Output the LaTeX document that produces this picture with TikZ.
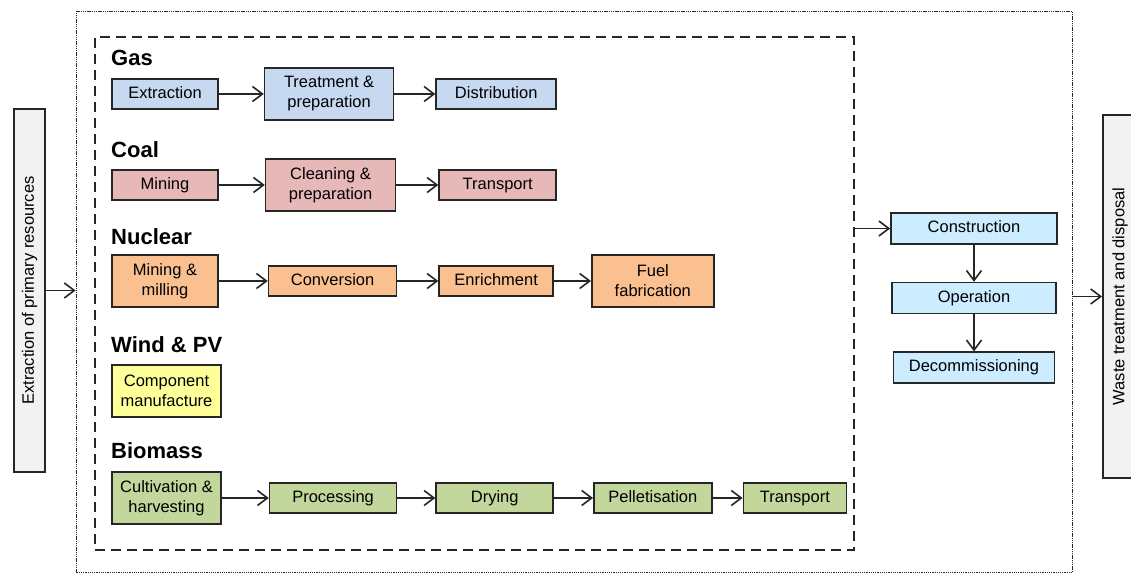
\documentclass[tikz,border=0pt]{standalone}
\usepackage{fontspec}
\setmainfont{Liberation Sans}
\usepackage{xcolor}
\usetikzlibrary{positioning, arrows.meta}

\definecolor{gasblue}{HTML}{C6D9F1}
\definecolor{coalpink}{HTML}{E6B9B8}
\definecolor{nucorange}{HTML}{FAC090}
\definecolor{windyellow}{HTML}{FFFF99}
\definecolor{biogreen}{HTML}{C3D69B}
\definecolor{lifeblue}{HTML}{CCECFF}
\definecolor{sidegray}{HTML}{F2F2F2}
\definecolor{edgegray}{HTML}{262626}

\begin{document}
\begin{tikzpicture}[
    x=1pt, y=-1pt,
    node distance=40pt,
    stagebox/.style={rectangle, draw=edgegray, line width=1.6pt, align=center, inner sep=2pt, font=\fontsize{16.5}{20}\selectfont},
    stage/.style={stagebox, minimum height=30pt, text height=12pt, text depth=3.5pt},
    twoline/.style={stagebox, minimum height=52pt},
    gas/.style={fill=gasblue},
    coal/.style={fill=coalpink},
    nuclear/.style={fill=nucorange},
    wind/.style={fill=windyellow},
    biomass/.style={fill=biogreen},
    life/.style={stage, fill=lifeblue, minimum height=31pt},
    fuellabel/.style={anchor=west, inner sep=0pt, font=\fontsize{22}{26}\selectfont\bfseries},
    sidebox/.style={rectangle, draw=edgegray, line width=2pt, fill=sidegray, minimum width=31pt, minimum height=363pt},
    sidetext/.style={rotate=90, font=\fontsize{16.5}{20}\selectfont},
    arr/.style={-{Straight Barb[length=10pt, width=15pt]}, line width=1.6pt, draw=edgegray}
]
\useasboundingbox (0,0) rectangle (1131,575);

% Frames
\node[rectangle, draw=edgegray, line width=1.8pt, dash pattern=on 1.3pt off 0.9pt, minimum width=996pt, minimum height=561pt] (system) at (574.5,292) {};
\node[rectangle, draw=edgegray, line width=1.8pt, dash pattern=on 10pt off 6pt, minimum width=759pt, minimum height=513pt] (plants) at (474.5,293.5) {};

% Side boxes
\node[sidebox] (extract) at (29.5,290.5) {};
\node[sidetext] at (extract.center) {Extraction of primary resources};
\node[sidebox] (waste) at (1118.5,296.5) {};
\node[sidetext] at (1120,296.5) {Waste treatment and disposal};

% Gas
\node[fuellabel] (gaslbl) at (111,58) {Gas};
\node[stage, gas, minimum width=106pt] (g1) at (165,94) {Extraction};
\node[twoline, gas, minimum width=129pt, right=45pt of g1] (g2) {Treatment \&\\preparation};
\node[stage, gas, minimum width=120pt, right=41pt of g2] (g3) {Distribution};

% Coal
\node[fuellabel] (coallbl) at (111,150) {Coal};
\node[stage, coal, minimum width=106pt] (c1) at (165,185) {Mining};
\node[twoline, coal, minimum width=130pt, right=46pt of c1] (c2) {Cleaning \&\\preparation};
\node[stage, coal, minimum width=117pt, right=42pt of c2] (c3) {Transport};

% Nuclear
\node[fuellabel] (nuclbl) at (111,237) {Nuclear};
\node[twoline, nuclear, minimum width=106pt] (n1) at (165,281) {Mining \&\\milling};
\node[stage, nuclear, minimum width=128pt, right=49pt of n1] (n2) {Conversion};
\node[stage, nuclear, minimum width=114pt, right=41pt of n2] (n3) {Enrichment};
\node[twoline, nuclear, minimum width=122pt, right=37pt of n3] (n4) {Fuel\\fabrication};

% Wind & PV
\node[fuellabel] (windlbl) at (111,345) {Wind \& PV};
\node[twoline, wind, minimum width=109pt] (w1) at (166.5,391) {Component\\manufacture};

% Biomass
\node[fuellabel] (biolbl) at (111,451) {Biomass};
\node[twoline, biomass, minimum width=109pt] (b1) at (166.5,498) {Cultivation \&\\harvesting};
\node[stage, biomass, minimum width=127pt, right=47pt of b1] (b2) {Processing};
\node[stage, biomass, minimum width=117pt, right=38pt of b2] (b3) {Drying};
\node[stage, biomass, minimum width=118pt, right=39pt of b3] (b4) {Pelletisation};
\node[stage, biomass, minimum width=103pt, right=30pt of b4] (b5) {Transport};

% Life cycle of the plant
\node[life, minimum width=166pt] (constr) at (974,228.5) {Construction};
\node[life, minimum width=164pt, below=37pt of constr] (oper) {Operation};
\node[life, minimum width=161pt, below=37pt of oper] (decom) {Decommissioning};

% Chains
\draw[arr] (g1) -- (g2);
\draw[arr] (g2) -- (g3);
\draw[arr] (c1) -- (c2);
\draw[arr] (c2) -- (c3);
\draw[arr] (n1) -- (n2);
\draw[arr] (n2) -- (n3);
\draw[arr] (n3) -- (n4);
\draw[arr] (b1) -- (b2);
\draw[arr] (b2) -- (b3);
\draw[arr] (b3) -- (b4);
\draw[arr] (b4) -- (b5);
\draw[arr] (constr) -- (oper);
\draw[arr] (oper) -- (decom);

% Flows between stages
\draw[arr] (extract.east) -- (extract.east -| system.west);
\draw[arr] (plants.east |- constr.west) -- (constr.west);
\draw[arr] (system.east |- waste.west) -- (waste.west);

\end{tikzpicture}
\end{document}
